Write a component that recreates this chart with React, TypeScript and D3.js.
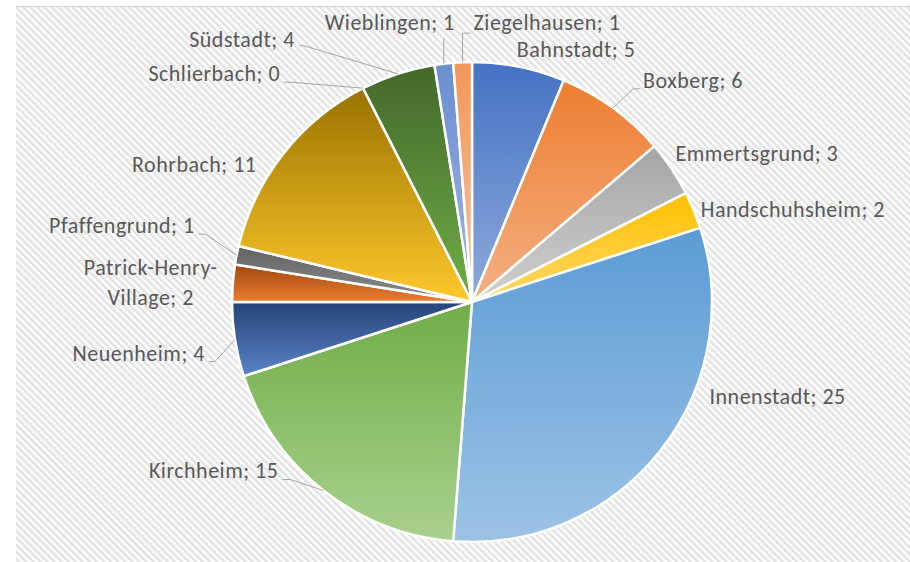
import React from 'react';
import * as d3 from 'd3';

const categories = ['Bahnstadt', 'Boxberg', 'Emmertsgrund', 'Handschuhsheim', 'Innenstadt', 'Kirchheim', 'Neuenheim', 'Patrick-Henry-Village', 'Pfaffengrund', 'Rohrbach', 'Schlierbach', 'Südstadt', 'Wieblingen', 'Ziegelhausen'];
const values = [5, 6, 3, 2, 25, 15, 4, 2, 1, 11, 0, 4, 1, 1];

const topColors = ['#4472C4', '#ED7D31', '#A5A5A5', '#FFC000', '#5B9BD5', '#70AD47', '#264478', '#9E480E', '#636363', '#997300', '#255E91', '#43682B', '#698ED0', '#F1975A'];
const bottomColors = ['#8FAADC', '#F4B183', '#D0D0D0', '#FFD966', '#9DC3E6', '#A9D18E', '#5B84C8', '#ED7D31', '#8C8C8C', '#FFC82C', '#5B9BD5', '#70AD47', '#A0B5E3', '#F8C3A0'];

// label layout: offset of text anchor from slice's outer mid point, leader points relative to text anchor
type Lay = { anchor: 'start' | 'end' | 'middle'; dx: number; dy: number; leader?: [number, number][]; wrap?: number };
const labelLayout: Lay[] = [
  { anchor: 'start', dx: -2, dy: -10 },
  { anchor: 'start', dx: 30, dy: -20, leader: [[-3, 1], [-10, 1]] },
  { anchor: 'start', dx: 4, dy: -8 },
  { anchor: 'start', dx: 7, dy: 7 },
  { anchor: 'start', dx: 49, dy: -47 },
  { anchor: 'end', dx: -45, dy: -12, leader: [[4, 1], [12, 1]] },
  { anchor: 'end', dx: -30, dy: 21, leader: [[4, 1], [10, 1]] },
  { anchor: 'middle', dx: -82, dy: -8, wrap: 14 },
  { anchor: 'end', dx: -42, dy: -22, leader: [[4, 1], [11, 1]] },
  { anchor: 'end', dx: -27, dy: 19 },
  { anchor: 'end', dx: -83, dy: -7, leader: [[4, 1], [11, 1]] },
  { anchor: 'end', dx: -103, dy: -27, leader: [[4, -1], [9, -1]] },
  { anchor: 'end', dx: 11, dy: -34, leader: [[-11, 9]] },
  { anchor: 'start', dx: 11, dy: -32, leader: [[-3, 3], [-11, 3]] },
];

const W = 910;
const H = 562;
const cx = 472;
const cy = 302;
const R = 240;
const FONT = 'Carlito, Lato, sans-serif';
const FS = 22;

export default function App() {
  const pie = d3.pie<number>().sort(null).value((d) => d).startAngle(0).endAngle(2 * Math.PI);
  const arcs = pie(values);
  const arcGen = d3.arc<d3.PieArcDatum<number>>().innerRadius(0).outerRadius(R);
  const outerGen = d3.arc<d3.PieArcDatum<number>>().innerRadius(R).outerRadius(R);

  return (
    <svg width={W} height={H} style={{ position: 'absolute', left: 0, top: 0, background: '#fff' }}>
      <defs>
        <pattern id="stripes" patternUnits="userSpaceOnUse" width={5} height={5} patternTransform="rotate(-45)">
          <rect width={5} height={5} fill="#ffffff" />
          <rect width={2.5} height={5} fill="#e3e3e3" />
        </pattern>
        {categories.map((c, i) => (
          <linearGradient key={c} id={`g${i}`} x1="0" y1="0" x2="0" y2="1">
            <stop offset="0" stopColor={topColors[i]} />
            <stop offset="1" stopColor={bottomColors[i]} />
          </linearGradient>
        ))}
      </defs>
      <rect x={16} y={6} width={W - 16} height={H - 6} fill="url(#stripes)" />
      <line x1={16} y1={6.5} x2={W} y2={6.5} stroke="#d9d9d9" strokeWidth={1.5} />
      <g transform={`translate(${cx},${cy})`}>
        {arcs.map((a, i) =>
          a.value > 0 ? (
            <path key={categories[i]} d={arcGen(a) || ''} fill={`url(#g${i})`} stroke="#ffffff" strokeWidth={2.5} strokeLinejoin="round" />
          ) : null
        )}
      </g>
      {arcs.map((a, i) => {
        const [ox, oy] = outerGen.centroid(a);
        const px = cx + ox;
        const py = cy + oy;
        const lay = labelLayout[i];
        const tx = px + lay.dx;
        const ty = py + lay.dy;
        const label = `${categories[i]}; ${values[i]}`;
        const lines = lay.wrap ? [label.slice(0, lay.wrap), label.slice(lay.wrap)] : [label];
        const pts: [number, number][] = lay.leader ? [...lay.leader.map(([x, y]) => [tx + x, ty + y] as [number, number]), [px, py]] : [];
        return (
          <g key={categories[i]}>
            {pts.length > 0 && (
              <path d={d3.line()(pts) || ''} fill="none" stroke="#a6a6a6" strokeWidth={1} />
            )}
            <text x={tx} y={ty} textAnchor={lay.anchor} fontFamily={FONT} fontSize={FS} letterSpacing={0.5} fill="#595959">
              {lines.map((l, k) => (
                <tspan key={k} x={tx} dy={k === 0 ? 0 : 30}>
                  {l}
                </tspan>
              ))}
            </text>
          </g>
        );
      })}
    </svg>
  );
}
